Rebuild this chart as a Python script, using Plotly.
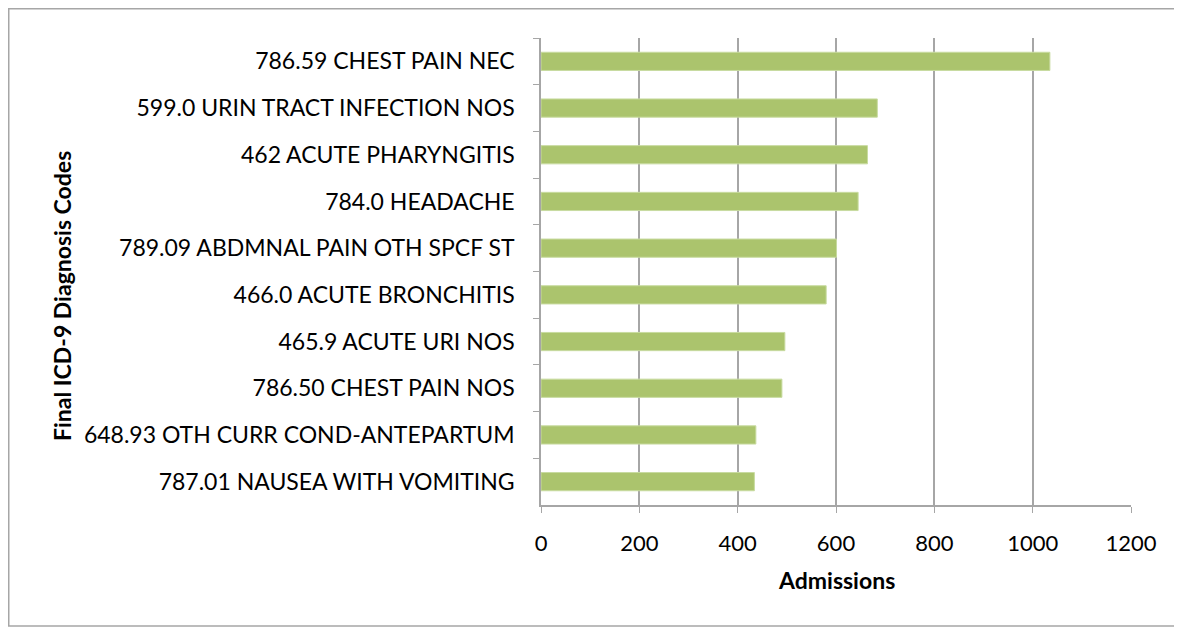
import plotly.graph_objects as go

categories = [
    "786.59 CHEST PAIN NEC",
    "599.0 URIN TRACT INFECTION NOS",
    "462 ACUTE PHARYNGITIS",
    "784.0 HEADACHE",
    "789.09 ABDMNAL PAIN OTH SPCF ST",
    "466.0 ACUTE BRONCHITIS",
    "465.9 ACUTE URI NOS",
    "786.50 CHEST PAIN NOS",
    "648.93 OTH CURR COND-ANTEPARTUM",
    "787.01 NAUSEA WITH VOMITING",
]
admissions = [1035, 684, 664, 645, 601, 580, 496, 490, 437, 434]
x_ticks = [0, 200, 400, 600, 800, 1000, 1200]

# page body offset of 8px is accounted for
OFF = 8
W, H = 1182 - OFF, 630 - OFF
L, T = 541 - OFF, 38 - OFF
R = W - (1131 - OFF)
B = H - (505 - OFF)
pw, ph = W - L - R, H - T - B

font_family = "Lato, 'Open Sans', sans-serif"

fig = go.Figure(
    go.Bar(
        x=admissions,
        y=categories,
        orientation="h",
        marker=dict(color="#abc46d", line=dict(color="#c8dba0", width=1)),
        width=0.39,
    )
)

fig.update_layout(
    width=W,
    height=H,
    margin=dict(l=L, r=R, t=T, b=B),
    paper_bgcolor="white",
    plot_bgcolor="white",
    showlegend=False,
    font=dict(family=font_family, size=23, color="#000000"),
)

fig.update_xaxes(
    range=[0, 1200],
    tickvals=x_ticks,
    ticktext=[str(v) for v in x_ticks],
    showgrid=True,
    gridcolor="#a6a6a6",
    gridwidth=1.5,
    zeroline=False,
    showline=True,
    linecolor="#a6a6a6",
    linewidth=1.5,
    ticks="outside",
    ticklen=6,
    tickcolor="#a6a6a6",
    tickfont=dict(size=22),
    ticklabelstandoff=12,
)

fig.update_yaxes(
    autorange="reversed",
    showgrid=False,
    showline=True,
    linecolor="#a6a6a6",
    linewidth=1.5,
    ticks="outside",
    ticklen=6,
    tickcolor="#a6a6a6",
    tickson="boundaries",
    tickfont=dict(size=23),
    ticklabelstandoff=20,
)

fig.add_annotation(
    text="<b>Admissions</b>",
    xref="paper", yref="paper",
    x=0.5, y=-(580 - 505) / ph,
    showarrow=False, font=dict(size=23), yanchor="middle",
)
fig.add_annotation(
    text="<b>Final ICD-9 Diagnosis Codes</b>",
    xref="paper", yref="paper",
    x=(62 - 541) / pw, y=1 - (296 - 38) / ph,
    showarrow=False, font=dict(size=23), textangle=-90,
    xanchor="center", yanchor="middle",
)

fig.add_shape(
    type="rect", xref="paper", yref="paper",
    x0=(-L + 0.75) / pw, x1=(1178 - 541) / pw,
    y0=-(626 - 505) / ph, y1=1 + (T - 0.75) / ph,
    line=dict(color="#a6a6a6", width=1.5),
    fillcolor="rgba(0,0,0,0)",
)

fig.write_html("out.html")
